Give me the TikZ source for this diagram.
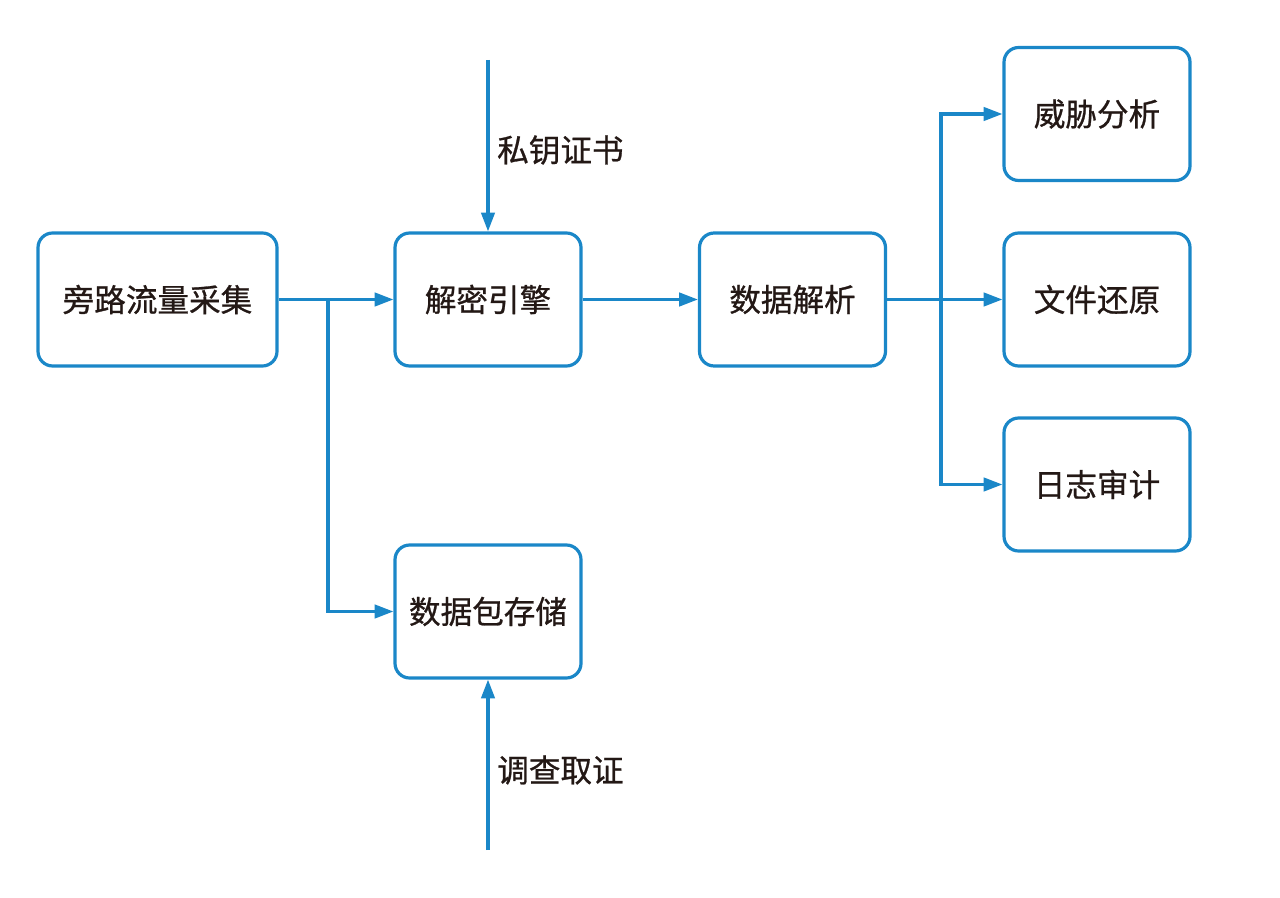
\documentclass[tikz,border=0pt]{standalone}
\usepackage{fontspec}
\newfontfamily\cjk[UprightFeatures={FakeBold=0.8}]{Noto Sans CJK SC}
\usetikzlibrary{arrows.meta,positioning}
\definecolor{lineblue}{HTML}{1A87C8}
\definecolor{inkblack}{HTML}{231815}

\tikzset{
	box/.style={draw=lineblue, line width=2.4pt, rounded corners=11pt, fill=white,
		minimum width=139.5pt, minimum height=99.75pt, inner sep=0pt,
		font=\cjk\fontsize{23.7pt}{28pt}\selectfont, text=inkblack},
	widebox/.style={box, minimum width=179.25pt},
	flow/.style={draw=lineblue, line width=2.3pt, -{Triangle[length=14pt,width=10pt]}},
	tag/.style={font=\cjk\fontsize{23.7pt}{28pt}\selectfont, text=inkblack, inner sep=0pt, anchor=west},
}

\begin{document}
\begin{tikzpicture}[x=0.75pt,y=-0.75pt]
	\useasboundingbox (0,0) rectangle (1280,898);

	\node[widebox] (bypass) at (157.5,299.5) {旁路流量采集};
	\node[box] (decrypt) at (488,299.5) {解密引擎};
	\node[box] (parse) at (792.5,299.5) {数据解析};
	\node[box] (threat) at (1097,114) {威胁分析};
	\node[box] (restore) at (1097,299.5) {文件还原};
	\node[box] (audit) at (1097,484.5) {日志审计};
	\node[box] (store) at (488,611.5) {数据包存储};

	\coordinate (keyin) at (488,60);
	\coordinate (probe) at (488,850);
	\coordinate (split) at (328,299.5);
	\coordinate (fanout) at (941,299.5);

	\node[tag] (keytag) at (497,150) {私钥证书};
	\node[tag] (probetag) at (497,770) {调查取证};

	% main path
	\draw[flow] (bypass) -- (decrypt);
	\draw[flow] (split) |- (store);
	\draw[flow] (keyin) -- (decrypt);
	\draw[flow] (probe) -- (store);
	\draw[flow] (decrypt) -- (parse);

	% fan out
	\draw[flow] (parse) -- (restore);
	\draw[flow] (fanout) |- (threat);
	\draw[flow] (fanout) |- (audit);
\end{tikzpicture}
\end{document}
